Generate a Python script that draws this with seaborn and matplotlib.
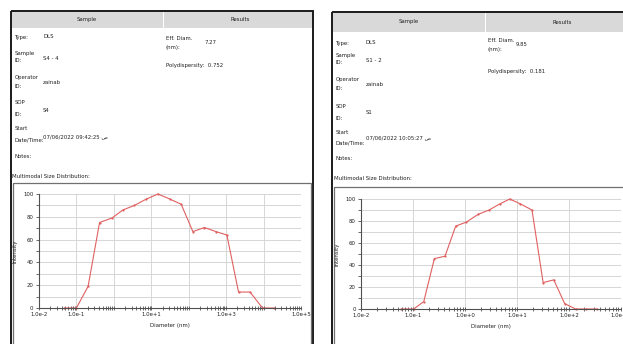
import numpy as np
import pandas as pd
import seaborn as sns
import matplotlib.pyplot as plt
from matplotlib.patches import Rectangle
from matplotlib.ticker import FixedLocator, LogLocator, NullFormatter

# Data (diameter in nm, intensity in %)
diam_s4 = [0.048, 0.1, 0.205, 0.415, 0.90, 1.74, 3.55, 7.3, 15.1, 31.6,
           63, 129, 263, 537, 1047, 2140, 4365, 9330, 19050]
inten_s4 = [0, 0, 19, 75, 79, 86, 90, 95.5, 100, 95.5,
            91, 67, 70.6, 67, 64, 14, 14, 0, 0]

diam_s1 = [0.059, 0.102, 0.16, 0.256, 0.411, 0.66, 1.06, 1.78, 2.9, 4.67,
           7.28, 11.7, 19.5, 32, 51.3, 83.2, 135, 219, 355]
inten_s1 = [0, 0, 6.7, 45.8, 48, 75.4, 79, 86, 90, 95.5,
            100, 95.5, 90, 24, 26.5, 4.9, 0, 0, 0]

# report fields: label lines, value
fields_s4 = [("Type:", "DLS"), ("Sample\nID:", "S4 - 4"), ("Operator\nID:", "zainab"),
             ("SOP\nID:", "S4"), ("Start\nDate/Time:", "07/06/2022 09:42:25 ص"), ("Notes:", "")]
fields_s1 = [("Type:", "DLS"), ("Sample\nID:", "S1 - 2"), ("Operator\nID:", "zainab"),
             ("SOP\nID:", "S1"), ("Start\nDate/Time:", "07/06/2022 10:05:27 ص"), ("Notes:", "")]
results_s4 = ("7.27", "0.752")
results_s1 = ("9.85", "0.181")

sns.set_theme(style="white")
plt.rcParams['font.family'] = ['Liberation Sans Narrow', 'DejaVu Sans']

W, H = 623, 344
fig = plt.figure(figsize=(W / 100, H / 100), dpi=100)

# background axes in pixel coordinates for the report frames and texts
bg = fig.add_axes([0, 0, 1, 1])
bg.set_xlim(0, W)
bg.set_ylim(H, 0)
bg.axis("off")

fs = 3.9
txt_col = "#222222"


def panel(x0, top, right, head_h, div_x, col_x, rows, row_y, mm_y, box_top, res, res_x, res_y):
    # outer frame
    bg.add_patch(Rectangle((x0, top), right - x0, H + 20 - top, fill=False,
                           ec="#1a1a1a", lw=1.4, zorder=3))
    # header band
    bg.add_patch(Rectangle((x0 + 1, top + 1), div_x - x0 - 1.5, head_h, fc="#d9d9d9", ec="none", zorder=1))
    bg.add_patch(Rectangle((div_x + 1, top + 1), right - div_x, head_h, fc="#d9d9d9", ec="none", zorder=1))
    bg.text((x0 + div_x) / 2, top + 1 + head_h / 2, "Sample", fontsize=fs, ha="center", va="center", color=txt_col)
    bg.text(div_x + 77, top + 1 + head_h / 2, "Results", fontsize=fs, ha="center", va="center", color=txt_col)
    # field rows
    for (lab, val), (y1, y2, yv) in zip(rows, row_y):
        parts = lab.split("\n")
        bg.text(x0 + 4, y1, parts[0], fontsize=fs, va="center", color=txt_col)
        if len(parts) > 1:
            bg.text(x0 + 4, y2, parts[1], fontsize=fs, va="center", color=txt_col)
        if val:
            bg.text(col_x, yv, val, fontsize=fs, va="center", color=txt_col)
    bg.text(x0 + 2, mm_y, "Multimodal Size Distribution:", fontsize=fs, va="center", color=txt_col)
    # inner plot box
    bg.add_patch(Rectangle((x0 + 2.5, box_top), right - x0 - 4.5, H + 20 - box_top, fill=False,
                           ec="#707070", lw=0.9, zorder=3))
    # results
    bg.text(div_x + 3, res_y[0], "Eff. Diam.", fontsize=fs, va="center", color=txt_col)
    bg.text(div_x + 3, res_y[1], "(nm):", fontsize=fs, va="center", color=txt_col)
    bg.text(res_x, (res_y[0] + res_y[1]) / 2, res[0], fontsize=fs, va="center", color=txt_col)
    bg.text(div_x + 3, res_y[2], "Polydispersity:  " + res[1], fontsize=fs, va="center", color=txt_col)


panel(10.5, 10.5, 312.5, 16, 163, 43, fields_s4,
      [(37, 0, 37), (53, 61, 58), (78, 86, 82), (103, 114, 110), (128, 140, 137), (157, 0, 0)],
      176, 183, results_s4, 205, (39, 47, 65))
panel(331.5, 11.5, 640, 19, 485, 366, fields_s1,
      [(43, 0, 43), (55, 62, 60), (80, 88, 85), (107, 118, 113), (132, 143, 138), (158, 0, 0)],
      178, 187, results_s1, 516, (41, 49, 72))


def dist_plot(rect, d, inten, xmax, labeled):
    ax = fig.add_axes(rect)
    ax.set_facecolor("none")
    df = pd.DataFrame({"Diameter (nm)": d, "Intensity": inten})
    sns.lineplot(data=df, x="Diameter (nm)", y="Intensity", ax=ax, color="#e06060",
                 lw=0.8, marker="o", markersize=1.6, markeredgewidth=0, clip_on=False)
    ax.set_xscale("log")
    ax.set_xlim(1e-2, xmax)
    ax.set_ylim(0, 100)
    exps = list(range(-2, int(np.log10(xmax)) + 1))
    ax.xaxis.set_major_locator(FixedLocator([10.0 ** k for k in exps]))
    ax.set_xticklabels(["1.0e%+d" % k if k in labeled else "" for k in exps])
    ax.xaxis.set_minor_locator(LogLocator(base=10, subs=np.arange(2, 10), numticks=20))
    ax.xaxis.set_minor_formatter(NullFormatter())
    ax.set_yticks([0, 20, 40, 60, 80, 100])
    ax.set_yticks(np.arange(0, 101, 10), minor=True)
    ax.grid(True, which="major", axis="x", color="#d6d6d6", lw=0.7)
    ax.grid(True, which="both", axis="y", color="#d6d6d6", lw=0.7)
    for s in ["top", "right"]:
        ax.spines[s].set_visible(False)
    for s in ["left", "bottom"]:
        ax.spines[s].set_color("#505050")
        ax.spines[s].set_linewidth(0.8)
    ax.tick_params(axis="both", which="both", labelsize=3.9, colors="#505050", labelcolor=txt_col, pad=1.5)
    ax.tick_params(axis="x", which="both", direction="inout", length=3, width=0.6, bottom=True)
    ax.tick_params(axis="y", which="both", direction="out", length=2.5, width=0.6, left=True)
    ax.set_xlabel("Diameter (nm)", fontsize=3.9, color=txt_col, labelpad=4)
    ax.set_ylabel("Intensity", fontsize=3.9, color=txt_col, labelpad=4)
    return ax


dist_plot([39 / W, 1 - 308 / H, 262 / W, 114 / H], diam_s4, inten_s4, 1e5, [-2, -1, 1, 3, 5])
dist_plot([361.3 / W, 1 - 309 / H, 259.4 / W, 110 / H], diam_s1, inten_s1, 1e3, [-2, -1, 0, 1, 2, 3])

fig.savefig("out.png", dpi=100)
